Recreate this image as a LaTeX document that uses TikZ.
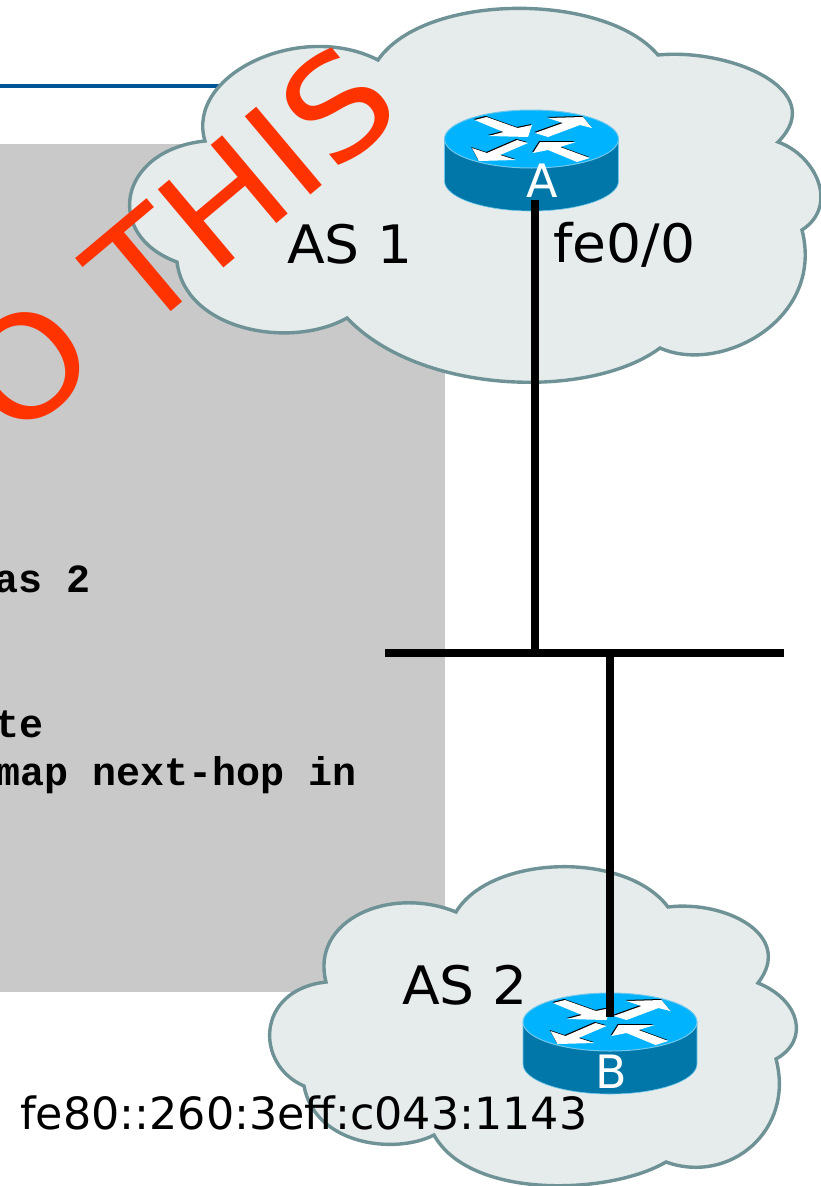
\documentclass[tikz,border=0pt]{standalone}
\usepackage{fontspec}
\setmainfont{DejaVu Sans}
\newfontfamily\codefont{Liberation Mono}
\definecolor{cloudfill}{HTML}{E6ECEC}
\definecolor{cloudline}{HTML}{6E9296}
\definecolor{routertop}{HTML}{00B3FF}
\definecolor{routerside}{HTML}{0077A8}
\definecolor{routeredge}{HTML}{6FC8EC}
\definecolor{panelgrey}{HTML}{C9C9C9}
\definecolor{titleblue}{HTML}{005696}
\definecolor{stampred}{HTML}{FF3300}
\newcommand{\routerarrow}[1]{
  \fill[black, shift={(-.8,-1)}] #1 -- cycle;
  \fill[white] #1 -- cycle;
}
\tikzset{
  cloud/.style = {draw = cloudline, fill = cloudfill, line width = 3.4pt, miter limit = 6},
  link/.style = {line width = 7.6pt},
  aslabel/.style = {inner sep = 0pt, anchor = base west, xscale = 1.04, font = \fontsize{53}{53}\selectfont},
  addrlabel/.style = {inner sep = 0pt, anchor = base west, font = \fontsize{44.4}{44}\selectfont},
  routerlabel/.style = {inner sep = 0pt, anchor = base, text = white, font = \fontsize{46}{46}\selectfont},
  codeline/.style = {inner sep = 0pt, anchor = base east, font = \codefont\bfseries\fontsize{40}{40}\selectfont},
  router/.pic = {
    \fill[routerside, draw = routeredge, line width = .6pt] (-87,0) -- (-87,42)
      arc[start angle = 180, end angle = 360, x radius = 87pt, y radius = 30pt]
      -- (87,0) -- cycle;
    \fill[routertop, draw = routeredge, line width = 1pt] (0,0) ellipse [x radius = 87pt, y radius = 29pt];
    \routerarrow{(-57,-19) -- (-45,-22) -- (-14,-11) -- (.5,-14) -- (-3.5,-2) -- (-43,-3) -- (-28,-7)}
    \routerarrow{(3.5,-6) -- (31.5,-16) -- (16.5,-21) -- (51.5,-22) -- (60.5,-11) -- (48.5,-14) -- (16.5,-2)}
    \routerarrow{(-3.5,4) -- (-14.5,1) -- (-44.5,14) -- (-59.5,9) -- (-52.5,22) -- (-15.5,21) -- (-31.5,16)}
    \routerarrow{(1.5,14) -- (8.5,3) -- (44.5,3) -- (28.5,8) -- (58.5,19) -- (45.5,23) -- (16.5,11)}
  }
}
\begin{document}
\begin{tikzpicture}[x=1pt, y=-1pt]
  \path[use as bounding box, clip] (0,0) rectangle (821,1186);
  \fill[white] (0,0) rectangle (821,1186);
  \draw[titleblue, line width = 3.4pt] (0,86) -- (230,86);
  \fill[panelgrey] (0,144) rectangle (445,992);
  % code lines
  \node[codeline] (codeAs) at (91,592) {as 2};
  \node[codeline] (codeTe) at (44,737) {te};
  \node[codeline] (codeMap) at (357,785) {map next-hop in};
  % clouds
  \draw[cloud] (378,60) .. controls (425,-8) and (605,-8) .. (658,55)
    .. controls (730,48) and (830,90) .. (778,142)
    .. controls (815,155) and (840,205) .. (802,230)
    .. controls (825,320) and (720,375) .. (660,348)
    .. controls (590,400) and (420,395) .. (347,318)
    .. controls (290,350) and (185,330) .. (177,262)
    .. controls (103,235) and (118,150) .. (205,141)
    .. controls (185,75) and (300,20) .. cycle;
  \draw[cloud] (456,912) .. controls (490,855) and (625,850) .. (668,907)
    .. controls (725,900) and (795,935) .. (758,983)
    .. controls (800,1000) and (810,1040) .. (776,1059)
    .. controls (795,1130) and (730,1185) .. (666,1162)
    .. controls (610,1195) and (470,1200) .. (434,1135)
    .. controls (395,1155) and (315,1145) .. (304,1086)
    .. controls (255,1065) and (255,990) .. (326,982)
    .. controls (310,920) and (390,885) .. cycle;
  % routers
  \pic (routerA) at (531.5,139) {router};
  \pic (routerB) at (610,1022) {router};
  \node[routerlabel] (labelA) at (542,197) {A};
  \node[routerlabel] (labelB) at (611,1088) {B};
  % links
  \coordinate (portA) at (535,200);
  \coordinate (tapA) at (535,653);
  \coordinate (portB) at (610,1017);
  \coordinate (tapB) at (610,653);
  \coordinate (busLeft) at (385,653);
  \coordinate (busRight) at (784,653);
  \draw[link] (portA) -- (tapA);
  \draw[link] (tapB) -- (portB);
  \draw[link] (busLeft) -- (busRight);
  % labels
  \node[aslabel] (as1) at (287,263) {AS 1};
  \node[aslabel] (as2) at (402,1004) {AS 2};
  \node[aslabel] (portName) at (553,262) {fe0/0};
  \node[addrlabel] (addrB) at (20,1129) {fe80::260:3eff:c043:1143};
  \node[inner sep = 0pt, anchor = base west, rotate = 40, xscale = 1.08, text = stampred,
    font = \fontsize{140}{140}\selectfont] (stamp) at (13.5,444) {O THIS};
\end{tikzpicture}
\end{document}
